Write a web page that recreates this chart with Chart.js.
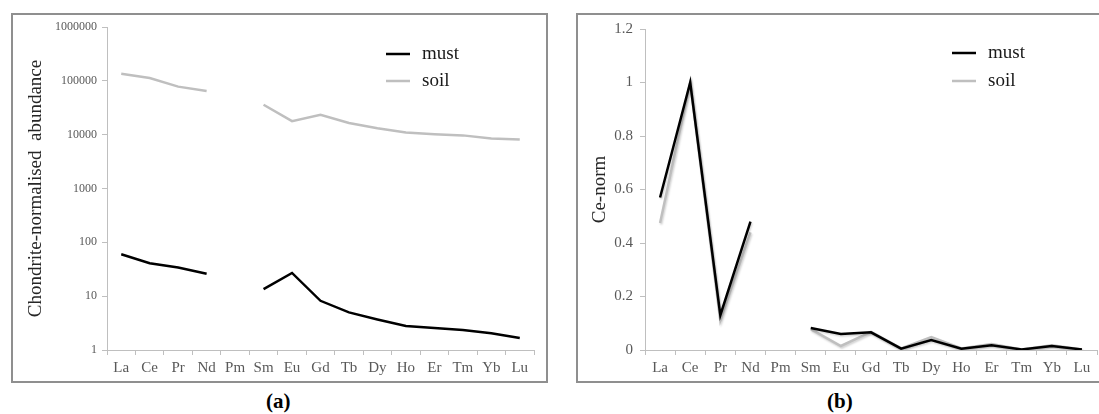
<!DOCTYPE html>
<html>
<head>
<meta charset="utf-8">
<script src="https://cdn.jsdelivr.net/npm/chart.js@4"></script>
<style>
  body { margin: 0; background: #fff; width: 1099px; height: 414px; overflow: hidden; position: relative; }
  .box { position: absolute; border: 2px solid #8f8f8f; box-sizing: border-box; }
  canvas { position: absolute; }
  .cap { position: absolute; font-family: "Liberation Serif", serif; font-weight: bold; font-size: 21px; color: #000; }
</style>
</head>
<body>
<div class="box" style="left:11px;top:13px;width:537px;height:370px;"></div>
<div class="box" style="left:576px;top:13px;width:540px;height:370px;"></div>
<canvas id="chartA" width="536" height="369" style="left:11px;top:13px;"></canvas>
<canvas id="chartB" width="523" height="369" style="left:576px;top:13px;"></canvas>
<div class="cap" style="left:266px;top:389px;">(a)</div>
<div class="cap" style="left:827px;top:389px;">(b)</div>
<script>
const elements = ["La", "Ce", "Pr", "Nd", "Pm", "Sm", "Eu", "Gd", "Tb", "Dy", "Ho", "Er", "Tm", "Yb", "Lu"];

// (a) chondrite-normalised
const mustA = [60, 41, 34, 26, null, 13.5, 27, 8.2, 5.0, 3.7, 2.8, 2.55, 2.35, 2.05, 1.67];
const soilA = [135000, 113000, 78000, 65000, null, 36000, 17800, 23500, 16500, 13200, 11000, 10200, 9700, 8500, 8100];
const yTicksA = [1, 10, 100, 1000, 10000, 100000, 1000000];

// (b) Ce-normalised
const mustB = [0.57, 1.0, 0.13, 0.48, null, 0.082, 0.06, 0.066, 0.005, 0.037, 0.005, 0.018, 0.002, 0.015, 0.002];
const soilB = [0.475, 1.0, 0.11, 0.44, null, 0.078, 0.015, 0.068, 0.006, 0.048, 0.006, 0.022, 0.002, 0.018, 0.002];

const serif = "'Liberation Serif', 'Times New Roman', serif";
const axisGray = "#bfbfbf";
const tickText = "#595959";

// little legend drawn inside the plot, like the Excel original
const insideLegend = {
  id: "insideLegend",
  afterDraw(chart, args, opts) {
    const ctx = chart.ctx;
    ctx.save();
    ctx.font = "19px " + serif;
    ctx.textBaseline = "middle";
    chart.data.datasets.forEach((ds, i) => {
      const y = opts.y + i * opts.gap;
      ctx.strokeStyle = ds.borderColor;
      ctx.lineWidth = 2.5;
      ctx.beginPath();
      ctx.moveTo(opts.x, y);
      ctx.lineTo(opts.x + 24, y);
      ctx.stroke();
      ctx.fillStyle = "#1a1a1a";
      ctx.fillText(ds.label, opts.x + 36, y);
    });
    ctx.restore();
  }
};

// soft drop shadow under the lines of chart (b)
const lineShadow = {
  id: "lineShadow",
  beforeDatasetDraw(chart) {
    const ctx = chart.ctx;
    ctx.save();
    ctx.shadowColor = "rgba(0,0,0,0.18)";
    ctx.shadowBlur = 2;
    ctx.shadowOffsetX = 1;
    ctx.shadowOffsetY = 1.5;
  },
  afterDatasetDraw(chart) {
    chart.ctx.restore();
  }
};

function makeConfig(must, soil, yScale, layout, legendPos, plugins) {
  return {
    type: "line",
    data: {
      labels: elements,
      datasets: [
        { label: "must", data: must, borderColor: "#000000", borderWidth: 2.5, pointRadius: 0, tension: 0, spanGaps: false },
        { label: "soil", data: soil, borderColor: "#bfbfbf", borderWidth: 2.5, pointRadius: 0, tension: 0, spanGaps: false }
      ]
    },
    options: {
      responsive: false,
      animation: false,
      layout: { padding: layout.padding },
      plugins: {
        legend: { display: false },
        tooltip: { enabled: false },
        insideLegend: legendPos
      },
      scales: {
        x: {
          offset: true,
          grid: { offset: true, drawOnChartArea: false, drawTicks: true, tickLength: 5, color: axisGray },
          border: { color: axisGray, width: 1 },
          ticks: { color: tickText, font: { family: serif, size: 15 }, padding: 4, maxRotation: 0, autoSkip: false },
          afterFit: s => { s.height = layout.xHeight; }
        },
        y: Object.assign({
          grid: { drawOnChartArea: false, drawTicks: true, tickLength: 5, color: axisGray },
          border: { color: axisGray, width: 1 },
          afterFit: s => { s.width = layout.yWidth; }
        }, yScale)
      }
    },
    plugins: plugins
  };
}

new Chart(document.getElementById("chartA"), makeConfig(mustA, soilA, {
  type: "logarithmic",
  min: 1,
  max: 1000000,
  afterBuildTicks: s => { s.ticks = yTicksA.map(v => ({ value: v })); },
  ticks: { color: tickText, font: { family: serif, size: 12 }, padding: 5, callback: v => String(v) },
  title: { display: true, text: "Chondrite-normalised  abundance", color: "#262626", font: { family: serif, size: 19 }, padding: { top: 0, bottom: 0 } }
}, { padding: { left: 14, top: 14, right: 13, bottom: 0 }, yWidth: 82, xHeight: 32 },
   { x: 375, y: 41, gap: 27 }, [insideLegend]));

new Chart(document.getElementById("chartB"), makeConfig(mustB, soilB, {
  min: 0,
  max: 1.2,
  ticks: { stepSize: 0.2, color: tickText, font: { family: serif, size: 15 }, padding: 7, callback: v => String(Math.round(v * 10) / 10) },
  title: { display: true, text: "Ce-norm", color: "#262626", font: { family: serif, size: 19 }, padding: { top: 0, bottom: 0 } }
}, { padding: { left: 13, top: 14, right: 2, bottom: 0 }, yWidth: 56, xHeight: 32 },
   { x: 376, y: 40, gap: 28 }, [insideLegend, lineShadow]));
</script>
</body>
</html>
